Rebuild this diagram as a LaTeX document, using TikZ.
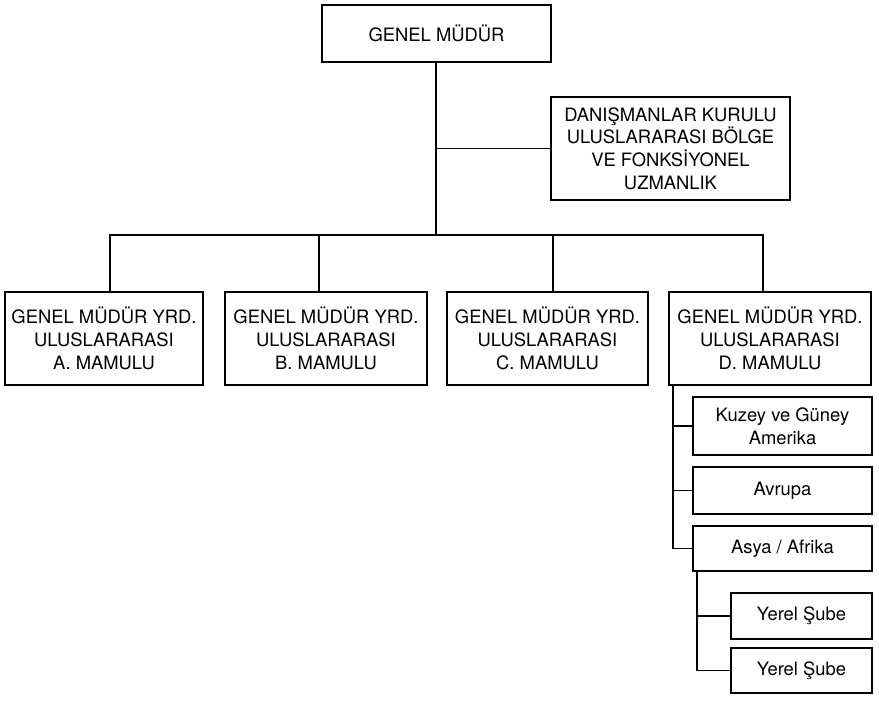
\documentclass[tikz,border=0pt]{standalone}
\usepackage{fontspec}
\setmainfont{TeX Gyre Heros}
\begin{document}
\begin{tikzpicture}[x=0.75pt,y=-0.75pt,
  box/.style={draw=black,line width=1.1pt,fill=white,inner sep=0pt,align=center,
    font=\fontsize{13.8}{17}\selectfont},
  conn/.style={line width=1.1pt,line cap=rect},
  trunk/.style={line width=1.8pt,line cap=rect}]
\useasboundingbox (0,0) rectangle (879,703);
\node[box,minimum width=229*0.75pt,minimum height=57*0.75pt] (gm) at (436.5,33.5) {GENEL MÜDÜR};
\node[box,minimum width=239*0.75pt,minimum height=103*0.75pt] (adv) at (670.5,148.5)
  {DANIŞMANLAR KURULU\\ULUSLARARASI BÖLGE\\VE FONKSİYONEL\\UZMANLIK};
\node[box,minimum width=198*0.75pt,minimum height=93*0.75pt] (a) at (104,338.5)
  {GENEL MÜDÜR YRD.\\ULUSLARARASI\\A. MAMULU};
\node[box,minimum width=202*0.75pt,minimum height=93*0.75pt] (b) at (326,338.5)
  {GENEL MÜDÜR YRD.\\ULUSLARARASI\\B. MAMULU};
\node[box,minimum width=201*0.75pt,minimum height=93*0.75pt] (c) at (547.5,338.5)
  {GENEL MÜDÜR YRD.\\ULUSLARARASI\\C. MAMULU};
\node[box,minimum width=202*0.75pt,minimum height=93*0.75pt] (d) at (770,338.5)
  {GENEL MÜDÜR YRD.\\ULUSLARARASI\\D. MAMULU};
\node[box,minimum width=179*0.75pt,minimum height=58*0.75pt] (kuz) at (782.5,426)
  {Kuzey ve Güney\\Amerika};
\node[box,minimum width=179*0.75pt,minimum height=47*0.75pt] (avr) at (782.5,490.5) {Avrupa};
\node[box,minimum width=179*0.75pt,minimum height=45*0.75pt] (asy) at (782.5,548.5) {Asya / Afrika};
\node[box,minimum width=141*0.75pt,minimum height=46*0.75pt] (ys1) at (801.5,616) {Yerel Şube};
\node[box,minimum width=141*0.75pt,minimum height=45*0.75pt] (ys2) at (801.5,670.5) {Yerel Şube};
% main trunk
\coordinate (busL) at (110,235);
\coordinate (busR) at (763,235);
\coordinate (busM) at (436,235);
\coordinate (colB) at (319,235);
\coordinate (colC) at (553,235);
\draw[trunk] (gm.south -| busM) -- (busM);
\draw[conn] (busM |- adv.west) -- (adv.west);
\draw[conn] (busL) -- (busR);
\draw[conn] (busL) -- (a.north -| busL);
\draw[conn] (colB) -- (b.north -| colB);
\draw[conn] (colC) -- (c.north -| colC);
\draw[conn] (busR) -- (d.north -| busR);
% D sub trunk
\coordinate (t1) at (673,0);
\draw[conn] (d.south -| t1) |- (asy.west);
\draw[conn] (t1 |- kuz.west) -- (kuz.west);
\draw[conn] (t1 |- avr.west) -- (avr.west);
% Asya sub trunk
\coordinate (t2) at (697,0);
\draw[conn] (asy.south -| t2) |- (ys2.west);
\draw[conn] (t2 |- ys1.west) -- (ys1.west);
\end{tikzpicture}
\end{document}
